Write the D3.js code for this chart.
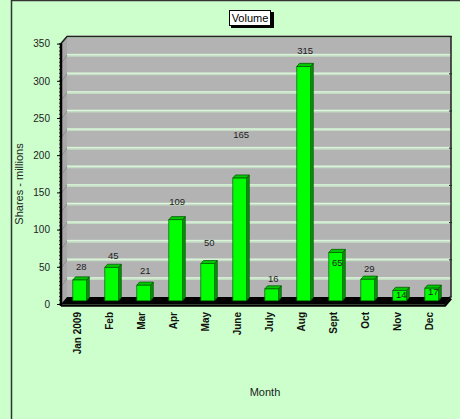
<!DOCTYPE html>
<html><head><meta charset="utf-8">
<script src="https://cdn.jsdelivr.net/npm/d3@7"></script>
<style>html,body{margin:0;padding:0;background:#ccffcc;overflow:hidden}svg{display:block}</style>
</head><body>
<script>
const months = ["Jan 2009","Feb","Mar","Apr","May","June","July","Aug","Sept","Oct","Nov","Dec"];
const volumes = [28,45,21,109,50,165,16,315,65,29,14,17];
// where each data label sits, in data units
const labelLevels = [46,61,41,133,79,224,30,336,51,43,8,13];
const yTicks = [0,50,100,150,200,250,300,350];
const gridValues = d3.range(25,351,25);
const title = "Volume", yTitle = "Shares - millions", xTitle = "Month";

const W=460,H=419;
const svg=d3.select("body").append("svg").attr("width",W).attr("height",H);
svg.append("rect").attr("x",0).attr("y",0).attr("width",W).attr("height",H).attr("fill","#ccffcc");
// outer frame
svg.append("path").attr("d",`M11.5,${H} V0.5 H${W}`).attr("fill","none").attr("stroke","#333").attr("stroke-width",1.5);

const DX=6, DY=-7; // depth offset
const x=d3.scaleBand().domain(months).range([61,445]).paddingInner(0.57).paddingOuter(0.285);
const y=d3.scaleLinear().domain([0,350]).range([304,43.6]);
const x0=61,x1=445;

// back wall
svg.append("rect").attr("x",x0+DX).attr("y",y(350)+DY).attr("width",x1-x0).attr("height",y(0)-y(350))
  .attr("fill","#b3b3b3");
// left wall
svg.append("path").attr("d",`M${x0},${y(0)} L${x0},${y(350)} L${x0+DX},${y(350)+DY} L${x0+DX},${y(0)+DY} Z`).attr("fill","#a8a8a8");
// gridlines
const g=svg.append("g");
gridValues.forEach(v=>{
  g.append("line").attr("x1",x0+DX).attr("x2",x1+DX).attr("y1",y(v)+DY).attr("y2",y(v)+DY)
    .attr("stroke","#c4dcc4").attr("stroke-width",3);
  g.append("line").attr("x1",x0+DX).attr("x2",x1+DX).attr("y1",y(v)+DY-0.5).attr("y2",y(v)+DY-0.5)
    .attr("stroke","#dff5df").attr("stroke-width",1);
  g.append("path").attr("d",`M${x0+1},${y(v)} L${x0+DX},${y(v)+DY}`).attr("stroke","#888").attr("stroke-width",0.8).attr("fill","none");
});
// top & right edges
svg.append("path").attr("d",`M${x0},${y(350)} L${x0+DX},${y(350)+DY} H${x1+DX} V${y(0)+DY}`)
  .attr("fill","none").attr("stroke","#222").attr("stroke-width",1.5);
// right tick marks
yTicks.forEach(v=>svg.append("line").attr("x1",x1+DX-2).attr("x2",x1+DX+1).attr("y1",y(v)+DY).attr("y2",y(v)+DY).attr("stroke","#222"));
// floor
svg.append("path").attr("d",`M${x0},${y(0)} L${x0+DX},${y(0)+DY} H${x1+DX} L${x1},${y(0)} Z`).attr("fill","#000");
svg.append("path").attr("d",`M${x0},${y(0)+1.5} H${x1} L${x1+DX},${y(0)+DY+1.5}`).attr("fill","none").attr("stroke","#000").attr("stroke-width",2.5);

// left axis with minor ticks
svg.append("line").attr("x1",x0).attr("x2",x0).attr("y1",y(0)+2).attr("y2",y(350)).attr("stroke","#000").attr("stroke-width",2.5);
d3.range(0,351,5).forEach(v=>svg.append("line").attr("x1",x0-2).attr("x2",x0+1).attr("y1",y(v)).attr("y2",y(v)).attr("stroke","#000").attr("stroke-width",0.8));
const yAxis=svg.append("g").attr("transform",`translate(${x0-1},0)`)
  .call(d3.axisLeft(y).tickValues(yTicks).tickSize(3).tickPadding(7));
yAxis.select(".domain").remove();
yAxis.selectAll("text").attr("font-family","Arial, Liberation Sans, sans-serif").attr("font-size",10).attr("fill","#222");
yAxis.selectAll("line").attr("stroke","#000");

// bars
const f1=0.45,f2=0.9;
const bars=svg.append("g");
months.forEach((m,i)=>{
  const v=volumes[i];
  const bx=x(m)+DX*f1, bw=x.bandwidth();
  const yb=y(0)+DY*f1, yt=y(v)+DY*f1;
  const sx=DX*(f2-f1), sy=DY*(f2-f1);
  // side
  bars.append("path").attr("d",`M${bx+bw},${yb} L${bx+bw+sx},${yb+sy} L${bx+bw+sx},${yt+sy} L${bx+bw},${yt} Z`)
    .attr("fill","#009a00").attr("stroke","#004d00").attr("stroke-width",0.7);
  // top
  bars.append("path").attr("d",`M${bx},${yt} L${bx+sx},${yt+sy} L${bx+bw+sx},${yt+sy} L${bx+bw},${yt} Z`)
    .attr("fill","#00c800").attr("stroke","#004d00").attr("stroke-width",0.7);
  // front
  bars.append("rect").attr("x",bx).attr("y",yt).attr("width",bw).attr("height",yb-yt)
    .attr("fill","#00ff00").attr("stroke","#005a00").attr("stroke-width",0.7);
});
// data labels
const lab=svg.append("g").attr("font-family","Arial, Liberation Sans, sans-serif").attr("font-size",9.5).attr("fill","#222").attr("text-anchor","middle");
months.forEach((m,i)=>{
  lab.append("text").attr("x",x(m)+x.bandwidth()/2+DX*0.7).attr("y",y(labelLevels[i])+DY*0.45+3.5).text(volumes[i]);
});

// x labels
const xl=svg.append("g").attr("font-family","Arial, Liberation Sans, sans-serif").attr("font-size",10).attr("font-weight","bold").attr("fill","#111");
months.forEach(m=>{
  const cx=x(m)+x.bandwidth()/2;
  xl.append("text").attr("transform",`translate(${cx+3.5},${312}) rotate(-90)`).attr("text-anchor","end").text(m);
});

// axis titles
svg.append("text").attr("transform","translate(23,184) rotate(-90)").attr("text-anchor","middle")
  .attr("font-family","Arial, Liberation Sans, sans-serif").attr("font-size",11).attr("fill","#222").text(yTitle);
svg.append("text").attr("x",265).attr("y",396).attr("text-anchor","middle")
  .attr("font-family","Arial, Liberation Sans, sans-serif").attr("font-size",11).attr("fill","#222").text(xTitle);

// title box
const tg=svg.append("g");
tg.append("rect").attr("x",231).attr("y",12).attr("width",43).attr("height",16).attr("fill","#000");
tg.append("rect").attr("x",229.5).attr("y",10.5).attr("width",41).attr("height",15).attr("fill","#fff").attr("stroke","#000").attr("stroke-width",1);
tg.append("text").attr("x",250).attr("y",22).attr("text-anchor","middle")
  .attr("font-family","Arial, Liberation Sans, sans-serif").attr("font-size",11).attr("fill","#000").text(title);
</script>
</body></html>
